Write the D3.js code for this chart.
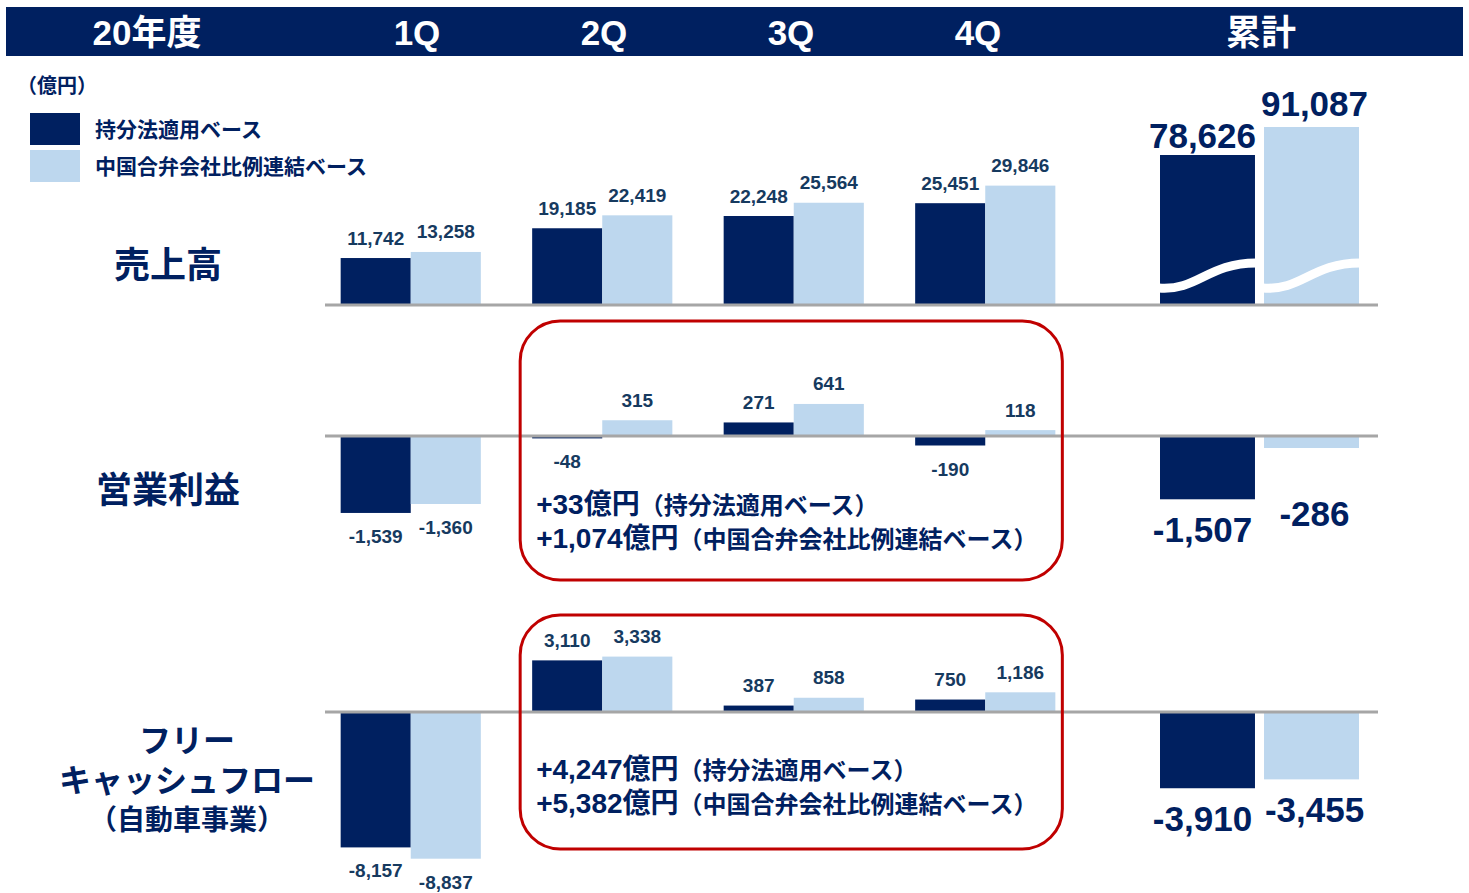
<!DOCTYPE html>
<html lang="ja">
<head>
<meta charset="UTF-8">
<title>20年度 業績</title>
<style>
  body { margin: 0; background: #fff; }
  svg { display: block; font-family: "Liberation Sans", Arial, "Noto Sans CJK JP", sans-serif; }
  .val { font-size: 19px; font-weight: bold; fill: #163a5f; text-anchor: middle; }
  .big { font-size: 35px; font-weight: bold; fill: #002060; text-anchor: middle; }
  .rowlab { font-weight: bold; fill: #002060; text-anchor: middle; font-family: "Noto Sans CJK JP", sans-serif; }
</style>
</head>
<body>
<div id="chart"></div>
<script src="https://d3js.org/d3.v7.min.js"></script>
<script>
// data (億円)
const quarters = ["1Q", "2Q", "3Q", "4Q"];
const series = ["持分法適用ベース", "中国合弁会社比例連結ベース"];
const headerLabels = ["20年度", "1Q", "2Q", "3Q", "4Q", "累計"];

const salesEquity = [11742, 19185, 22248, 25451];
const salesProp   = [13258, 22419, 25564, 29846];
const opEquity    = [-1539, -48, 271, -190];
const opProp      = [-1360, 315, 641, 118];
const fcfEquity   = [-8157, 3110, 387, 750];
const fcfProp     = [-8837, 3338, 858, 1186];

const cumSales = [78626, 91087];
const cumOp    = [-1507, -286];
const cumFcf   = [-3910, -3455];

const opNotes  = [["+33億円", "（持分法適用ベース）"], ["+1,074億円", "（中国合弁会社比例連結ベース）"]];
const fcfNotes = [["+4,247億円", "（持分法適用ベース）"], ["+5,382億円", "（中国合弁会社比例連結ベース）"]];

const width = 1469, height = 893;
const navy = "#002060", light = "#bdd7ee", grid = "#a6a6a6", red = "#c00000";
const colors = [navy, light];

const fmt = d3.formatLocale({decimal: ".", thousands: ",", grouping: [3], currency: ["", ""], minus: "-"}).format(",");

const svg = d3.select("#chart").append("svg")
    .attr("width", width)
    .attr("height", height);

// scales
const x0 = d3.scaleBand().domain(quarters).range([315, 1081]).paddingInner(0.268).paddingOuter(0.134);
const x1 = d3.scaleBand().domain(series).range([0, x0.bandwidth()]);
const xc = d3.scaleBand().domain(series).range([1160, 1359]).paddingInner(0.087);
const xh = d3.scalePoint().domain(quarters).range([417, 978]);

const rows = [
    // cumulative sales uses a broken axis (wave), so its baseline is not zero
    { key: "sales", zero: 305, y: d3.scaleLinear().domain([0, 30000]).range([305, 185]),
      yc: d3.scaleLinear().domain([11870, 91087]).range([305, 127]),
      data: [salesEquity, salesProp], cum: cumSales },
    { key: "op", zero: 436, y: d3.scaleLinear().domain([0, 1000]).range([436, 386]),
      yc: d3.scaleLinear().domain([0, 1000]).range([436, 394]),
      data: [opEquity, opProp], cum: cumOp },
    { key: "fcf", zero: 712, y: d3.scaleLinear().domain([0, 10000]).range([712, 546]),
      yc: d3.scaleLinear().domain([0, 10000]).range([712, 517]),
      data: [fcfEquity, fcfProp], cum: cumFcf }
];

// header
svg.append("rect").attr("x", 6).attr("y", 7).attr("width", 1457).attr("height", 49).attr("fill", navy);
const headerX = [147, ...quarters.map(q => xh(q)), 1261];
svg.append("g").selectAll("text")
    .data(headerLabels)
    .enter().append("text")
    .attr("x", (d, i) => headerX[i])
    .attr("y", 45)
    .attr("text-anchor", "middle")
    .attr("fill", "#fff")
    .attr("font-weight", "bold")
    .attr("font-size", 35)
    .text(d => d);

// unit + legend
svg.append("text").attr("x", 17).attr("y", 93).attr("font-size", 20).attr("font-weight", "bold")
    .attr("fill", navy).style("font-family", "'Noto Sans CJK JP'").text("（億円）");
const legend = svg.append("g").attr("transform", "translate(30,113)");
series.forEach((s, i) => {
    const row = legend.append("g").attr("transform", `translate(0, ${i * 37})`);
    row.append("rect").attr("width", 50).attr("height", 32).attr("fill", colors[i]);
    row.append("text").attr("x", 65).attr("y", 24).attr("font-size", 21).attr("font-weight", "bold")
        .attr("fill", navy).style("font-family", "'Noto Sans CJK JP'").text(s);
});

// bars + labels
rows.forEach(r => {
    const g = svg.append("g").attr("class", r.key);
    r.data.forEach((vals, si) => {
        vals.forEach((v, qi) => {
            const bx = x0(quarters[qi]) + x1(series[si]);
            const yv = r.y(v);
            g.append("rect")
                .attr("x", bx)
                .attr("y", Math.min(yv, r.zero))
                .attr("width", x1.bandwidth())
                .attr("height", Math.abs(yv - r.zero))
                .attr("fill", colors[si]);
            g.append("text")
                .attr("class", "val")
                .attr("x", bx + x1.bandwidth() / 2)
                .attr("y", v >= 0 ? yv - 13.5 : yv + 30)
                .text(fmt(v));
        });
    });
    // cumulative
    r.cum.forEach((v, si) => {
        const bx = xc(series[si]);
        const yv = r.yc(v);
        g.append("rect")
            .attr("x", bx)
            .attr("y", Math.min(yv, r.zero))
            .attr("width", xc.bandwidth())
            .attr("height", Math.abs(yv - r.zero))
            .attr("fill", colors[si]);
        const ly = v >= 0 ? yv - 7 - si * 4 : Math.max(yv + 31, r.zero + 78) + 12;
        g.append("text")
            .attr("class", "big")
            .attr("x", bx + xc.bandwidth() / 2 + (si === 0 ? -5 : 3))
            .attr("y", ly)
            .text(fmt(v));
    });
    // zero line
    svg.append("line")
        .attr("x1", 325).attr("x2", 1378)
        .attr("y1", r.zero).attr("y2", r.zero)
        .attr("stroke", grid).attr("stroke-width", 3);
});

// axis break waves on cumulative sales bars
series.forEach(s => {
    const a = xc(s) - 1, b = xc(s) + xc.bandwidth() + 1, w = b - a;
    svg.append("path")
        .attr("d", `M${a},288 C${a + w * 0.4},291 ${a + w * 0.5},263 ${b},263`)
        .attr("fill", "none")
        .attr("stroke", "#fff")
        .attr("stroke-width", 9);
});

// row labels (multi-line labels as one text with tspans)
const rowLabels = [
    { lines: ["売上高"], x: 168, y: [278], size: [36] },
    { lines: ["営業利益"], x: 168, y: [503], size: [36] },
    { lines: ["フリー", "キャッシュフロー", "（自動車事業）"], x: 187, y: [752, 792, 830], size: [32, 32, 28] }
];
rowLabels.forEach(rl => {
    const t = svg.append("text").attr("class", "rowlab");
    rl.lines.forEach((line, i) => {
        t.append("tspan")
            .attr("x", rl.x).attr("y", rl.y[i]).attr("font-size", rl.size[i]).text(line);
    });
});

// highlight boxes
const boxX = x0("2Q") - 12, boxW = x0("4Q") + x0.bandwidth() + 7 - boxX;
const boxes = [
    { y: 321, h: 259, notes: opNotes, ty: [514, 548] },
    { y: 615, h: 234, notes: fcfNotes, ty: [779, 813] }
];
boxes.forEach(bx => {
    svg.append("rect")
        .attr("x", boxX).attr("y", bx.y)
        .attr("width", boxW).attr("height", bx.h)
        .attr("rx", 40).attr("ry", 40)
        .attr("fill", "none").attr("stroke", red).attr("stroke-width", 3);
    bx.notes.forEach((n, i) => {
        const t = svg.append("text").attr("x", boxX + 16).attr("y", bx.ty[i])
            .attr("fill", navy).attr("font-weight", "bold");
        t.append("tspan").attr("font-size", 28).text(n[0]);
        t.append("tspan").attr("font-size", 24).style("font-family", "'Noto Sans CJK JP'").text(n[1]);
    });
});
</script>
</body>
</html>
